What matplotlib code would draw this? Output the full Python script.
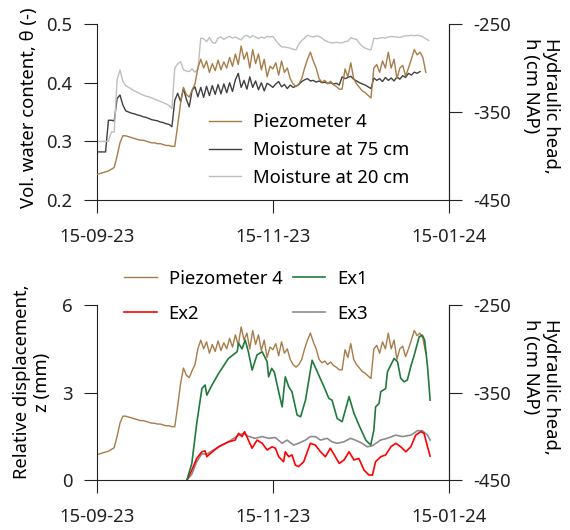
import pandas as pd
import matplotlib
matplotlib.use('Agg')
import matplotlib.pyplot as plt
import matplotlib.dates as mdates

plt.rcParams['font.family'] = ['Noto Sans', 'DejaVu Sans']
plt.rcParams['axes.unicode_minus'] = False

# Start of the daily records
start_date = '2023-09-15'

# Piezometer 4, hydraulic head (cm NAP), one value per day
piezo_h = [-421, -420, -419, -418, -417, -415, -413, -400, -385, -377,
           -377, -378, -379, -380, -381, -382, -382, -383, -384, -385,
           -385, -386, -386, -387, -388, -388, -389, -389, -365, -340,
           -322, -330, -333, -325, -318, -300, -290, -300, -292, -305,
           -295, -303, -291, -302, -293, -300, -288, -298, -284, -296,
           -275, -290, -282, -300, -279, -295, -284, -302, -290, -310,
           -298, -301, -294, -308, -292, -305, -300, -312, -318, -321,
           -318, -312, -300, -290, -282, -292, -300, -312, -316, -314,
           -318, -315, -319, -321, -324, -324, -301, -310, -294, -312,
           -318, -322, -326, -328, -331, -334, -300, -296, -305, -292,
           -300, -282, -300, -290, -312, -300, -297, -309, -300, -290,
           -279, -285, -282, -288, -305]

# Volumetric water content, one value per day
moist_75 = [0.282, 0.282, 0.282, 0.282, 0.336, 0.336, 0.335, 0.373, 0.379, 0.362,
            0.352, 0.350, 0.348, 0.347, 0.345, 0.344, 0.342, 0.341, 0.339, 0.337,
            0.336, 0.335, 0.333, 0.332, 0.330, 0.329, 0.325, 0.370, 0.382, 0.368,
            0.390, 0.372, 0.359, 0.387, 0.393, 0.376, 0.392, 0.375, 0.394, 0.378,
            0.395, 0.380, 0.397, 0.381, 0.398, 0.383, 0.400, 0.385, 0.405, 0.416,
            0.392, 0.404, 0.389, 0.410, 0.392, 0.403, 0.388, 0.400, 0.386, 0.399,
            0.396, 0.392, 0.398, 0.402, 0.393, 0.397, 0.390, 0.396, 0.392, 0.394,
            0.397, 0.402, 0.405, 0.407, 0.403, 0.404, 0.401, 0.403, 0.400, 0.401,
            0.399, 0.400, 0.398, 0.399, 0.396, 0.410, 0.407, 0.409, 0.411, 0.406,
            0.403, 0.400, 0.398, 0.396, 0.393, 0.390, 0.408, 0.404, 0.407, 0.402,
            0.409, 0.404, 0.408, 0.403, 0.410, 0.406, 0.412, 0.409, 0.416, 0.413,
            0.418, 0.416, 0.419]

moist_20 = [0.300, 0.300, 0.300, 0.300, 0.300, 0.316, 0.316, 0.405, 0.422, 0.402,
            0.395, 0.392, 0.389, 0.386, 0.384, 0.381, 0.379, 0.377, 0.376, 0.374,
            0.372, 0.370, 0.368, 0.366, 0.364, 0.361, 0.356, 0.425, 0.432, 0.436,
            0.422, 0.420, 0.419, 0.424, 0.418, 0.423, 0.476, 0.475, 0.470, 0.477,
            0.469, 0.467, 0.476, 0.478, 0.474, 0.477, 0.479, 0.476, 0.478, 0.475,
            0.473, 0.479, 0.481, 0.477, 0.480, 0.478, 0.475, 0.478, 0.476, 0.479,
            0.478, 0.479, 0.472, 0.466, 0.461, 0.461, 0.460, 0.459, 0.457, 0.456,
            0.466, 0.472, 0.476, 0.481, 0.479, 0.478, 0.480, 0.479, 0.476, 0.472,
            0.470, 0.468, 0.468, 0.469, 0.468, 0.468, 0.470, 0.471, 0.477, 0.475,
            0.474, 0.467, 0.462, 0.459, 0.457, 0.456, 0.476, 0.475, 0.476, 0.477,
            0.476, 0.478, 0.479, 0.478, 0.478, 0.477, 0.479, 0.480, 0.480, 0.481,
            0.480, 0.481, 0.480, 0.478, 0.475, 0.472]

# Extensometers: days since start and relative displacement (mm)
ex1_day = [31.2, 32.9, 34.6, 36.4, 37.5, 38.1, 39.9, 42.2, 45.6, 48.6,
           49.1, 50.3, 51.4, 52.5, 53.8, 55.5, 57.3, 59.0, 59.5, 60.6,
           61.5, 63.0, 64.2, 65.3, 66.5, 67.6, 69.4, 70.6, 72.3, 74.6,
           76.4, 78.7, 80.4, 81.5, 83.3, 85.0, 87.4, 89.1, 90.8, 93.2,
           94.9, 96.0, 96.6, 97.8, 98.4, 100.1, 100.7, 103.0, 104.2, 105.3,
           106.5, 107.6, 108.8, 110.0, 111.7, 112.8, 113.6, 114.6, 115.5]
ex1_z = [0.00, 0.57, 1.94, 3.14, 3.26, 2.91, 3.26, 3.66, 4.17, 4.40,
         4.69, 4.50, 4.80, 4.40, 3.77, 4.29, 4.40, 4.06, 3.54, 3.83,
         3.70, 3.03, 2.51, 3.54, 3.20, 3.03, 2.23, 2.17, 2.74, 4.11,
         3.71, 3.20, 2.80, 2.74, 2.11, 2.00, 2.86, 2.29, 1.89, 1.37,
         1.20, 1.71, 2.51, 2.63, 3.03, 3.14, 3.71, 4.17, 4.06, 3.49,
         3.37, 3.43, 3.89, 4.29, 4.91, 4.97, 4.80, 3.89, 2.74]

ex2_day = [31.2, 32.9, 34.6, 36.4, 37.5, 38.1, 39.2, 42.2, 45.6, 47.9,
           49.1, 50.3, 51.2, 52.5, 53.8, 55.5, 57.3, 59.0, 60.7, 61.9,
           63.0, 64.7, 65.3, 66.5, 67.6, 68.8, 69.9, 71.7, 74.0, 75.7,
           77.5, 79.2, 80.9, 82.0, 84.0, 85.7, 87.4, 89.1, 90.8, 92.6,
           94.3, 95.5, 96.6, 98.4, 100.1, 101.9, 103.6, 105.3, 107.1, 108.8,
           110.5, 112.3, 113.4, 114.6, 115.5]
ex2_z = [0.00, 0.34, 0.74, 0.97, 1.00, 0.80, 0.90, 1.14, 1.31, 1.37,
         1.60, 1.49, 1.66, 1.37, 1.09, 1.37, 1.26, 1.03, 1.14, 1.09,
         0.80, 0.63, 0.97, 0.80, 0.86, 0.51, 0.46, 0.63, 1.26, 1.20,
         0.97, 0.80, 1.09, 0.91, 0.57, 0.69, 0.97, 0.69, 0.74, 0.34,
         0.17, 0.17, 0.63, 0.80, 0.86, 1.14, 1.26, 1.14, 0.97, 1.14,
         1.54, 1.66, 1.60, 1.14, 0.82]

ex3_day = [31.2, 32.9, 34.6, 36.4, 38.1, 42.2, 45.6, 49.1, 50.8, 52.5,
           54.8, 57.3, 59.6, 61.8, 64.2, 65.9, 68.2, 69.9, 72.3, 74.0,
           75.7, 77.5, 79.8, 81.5, 83.3, 85.6, 87.9, 89.6, 91.9, 93.7,
           95.4, 98.3, 100.6, 103.6, 105.9, 108.8, 111.1, 112.8, 114.6, 115.5]
ex3_z = [0.00, 0.20, 0.63, 0.90, 0.89, 1.14, 1.31, 1.54, 1.60, 1.50,
         1.43, 1.49, 1.43, 1.46, 1.26, 1.37, 1.20, 1.26, 1.37, 1.49,
         1.49, 1.37, 1.43, 1.31, 1.26, 1.31, 1.43, 1.37, 1.26, 1.14,
         1.17, 1.37, 1.43, 1.54, 1.49, 1.54, 1.69, 1.69, 1.54, 1.37]

tick_dates = ['2023-09-15', '2023-11-15', '2024-01-15']

c_piezo = '#A87B47'
c_m75 = '#404040'
c_m20 = '#BFBFBF'
c_ex1 = '#217A3C'
c_ex2 = '#FF0000'
c_ex3 = '#8C8C8C'

t0 = pd.Timestamp(start_date)
def daily(vals):
    return t0 + pd.to_timedelta(list(range(len(vals))), unit='D')
def at_days(days):
    return t0 + pd.to_timedelta(days, unit='D')

fs = 13.3
tick_kw = dict(direction='out', length=9.5, width=0.8, pad=8, labelsize=fs,
               colors='#222222')

fig = plt.figure(figsize=(5.7, 5.3), dpi=100)
ax1 = fig.add_axes([0.170, 0.6226, 0.6175, 0.332])
ax3 = fig.add_axes([0.170, 0.0943, 0.6175, 0.330])

def style(ax, ax2):
    for a in (ax, ax2):
        a.spines['top'].set_visible(False)
        for s in a.spines.values():
            s.set_linewidth(0.8)
            s.set_color('#222222')
    ax2.spines['left'].set_visible(False)
    ax2.spines['bottom'].set_visible(False)
    ax.set_xlim(pd.Timestamp(tick_dates[0]), pd.Timestamp(tick_dates[-1]))
    ax.set_xticks([pd.Timestamp(d) for d in tick_dates])
    ax.xaxis.set_major_formatter(mdates.DateFormatter('%d-%m-%y'))
    ax.tick_params(axis='y', **tick_kw)
    ax2.tick_params(axis='y', **tick_kw)
    ax.tick_params(axis='x', direction='out', length=9.5, width=0.8, pad=11,
                   labelsize=fs, colors='#222222')
    ax2.set_ylim(-450, -250)
    ax2.set_yticks([-450, -350, -250])

# ---- top panel: water content vs hydraulic head
ax2 = ax1.twinx()
l_m75, = ax1.plot(daily(moist_75), moist_75, color=c_m75, lw=1.0)
l_m20, = ax1.plot(daily(moist_20), moist_20, color=c_m20, lw=1.0)
l_p1, = ax2.plot(daily(piezo_h), piezo_h, color=c_piezo, lw=1.0)
ax1.set_ylim(0.2, 0.5)
ax1.set_yticks([0.2, 0.3, 0.4, 0.5])
ax1.set_yticklabels(['0.2', '0.3', '0.4', '0.5'])
style(ax1, ax2)
ax2.legend([l_p1, l_m75, l_m20], ['Piezometer 4', 'Moisture at 75 cm', 'Moisture at 20 cm'],
           loc='center left', bbox_to_anchor=(0.297, 0.284), frameon=False, fontsize=fs,
           handlelength=1.75, handletextpad=0.65, labelspacing=0.52, borderaxespad=0)

# ---- bottom panel: displacement vs hydraulic head
ax4 = ax3.twinx()
l_p2, = ax4.plot(daily(piezo_h), piezo_h, color=c_piezo, lw=1.0)
l_e3, = ax3.plot(at_days(ex3_day), ex3_z, color=c_ex3, lw=1.2)
l_e2, = ax3.plot(at_days(ex2_day), ex2_z, color=c_ex2, lw=1.2)
l_e1, = ax3.plot(at_days(ex1_day), ex1_z, color=c_ex1, lw=1.2)
ax3.set_ylim(0, 6)
ax3.set_yticks([0, 3, 6])
style(ax3, ax4)
ax3.set_zorder(ax4.get_zorder() + 1)
ax3.patch.set_visible(False)
fig.legend([l_p2, l_e2, l_e1, l_e3], ['Piezometer 4', 'Ex2', 'Ex1', 'Ex3'],
           ncol=2, loc='upper left', bbox_to_anchor=(0.205, 0.505), frameon=False,
           fontsize=fs, handlelength=1.75, handletextpad=0.65, labelspacing=0.92,
           columnspacing=0.56, borderaxespad=0)

# axis titles
fig.text(29 / 570, 1 - 108 / 530, 'Vol. water content, θ (-)', rotation=90,
         ha='center', va='center', fontsize=fs)
fig.text(541 / 570, 1 - 106 / 530, 'Hydraulic head,\nh (cm NAP)', rotation=270,
         ha='center', va='center', multialignment='left', fontsize=fs)
fig.text(32 / 570, 1 - 382 / 530, 'Relative displacement,\nz (mm)', rotation=90,
         ha='center', va='center', multialignment='center', fontsize=fs)
fig.text(541 / 570, 1 - 387 / 530, 'Hydraulic head,\nh (cm NAP)', rotation=270,
         ha='center', va='center', multialignment='left', fontsize=fs)

fig.savefig('out.png', dpi=100)
